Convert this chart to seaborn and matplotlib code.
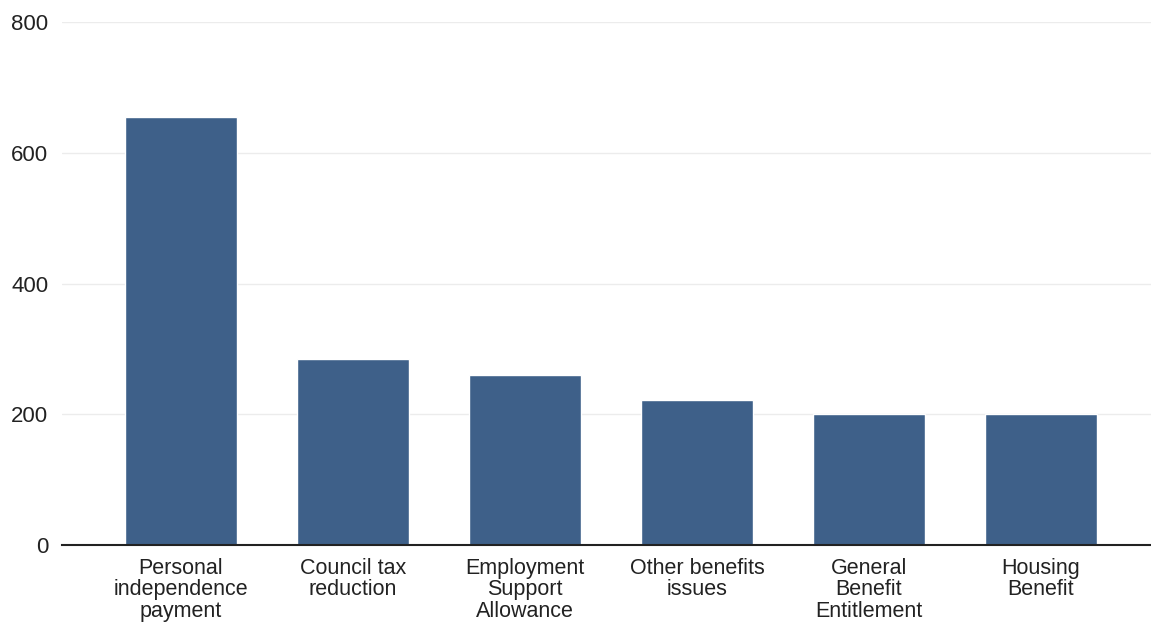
import pandas as pd
import matplotlib.pyplot as plt
import seaborn as sns

# Data
categories = [
    "Personal\nindependence\npayment",
    "Council tax\nreduction",
    "Employment\nSupport\nAllowance",
    "Other benefits\nissues",
    "General\nBenefit\nEntitlement",
    "Housing\nBenefit",
]
counts = [654, 284, 260, 222, 201, 201]
y_ticks = [0, 200, 400, 600, 800]

df = pd.DataFrame({"category": categories, "count": counts})

sns.set_style("white")
plt.rcParams['font.family'] = ['Liberation Sans', 'DejaVu Sans']

fig = plt.figure(figsize=(11.51, 6.37), dpi=100)
ax = fig.add_axes([0.054, 0.1444, 0.946, 0.821])

sns.barplot(data=df, x="category", y="count", color="#3e6089",
            width=0.65, saturation=1, ax=ax, zorder=2)

ax.set_ylim(0, 800)
ax.set_xlim(-0.69, 5.64)
ax.set_yticks(y_ticks)
ax.set_yticklabels([str(t) for t in y_ticks], fontsize=16, color="#222222")
ax.tick_params(axis="y", length=0, pad=10)
ax.tick_params(axis="x", length=0, pad=9)
for lbl in ax.get_xticklabels():
    lbl.set_fontsize(15.5)
    lbl.set_color("#222222")
    lbl.set_linespacing(1.05)
    lbl.set_verticalalignment("top")

ax.grid(axis="y", color="#ececec", linewidth=1, zorder=0)
ax.set_xlabel("")
ax.set_ylabel("")
for side in ["top", "right", "left"]:
    ax.spines[side].set_visible(False)
ax.spines["bottom"].set_color("#222222")
ax.spines["bottom"].set_linewidth(1.5)
ax.spines["bottom"].set_zorder(3)

fig.savefig("out.png", dpi=100)
